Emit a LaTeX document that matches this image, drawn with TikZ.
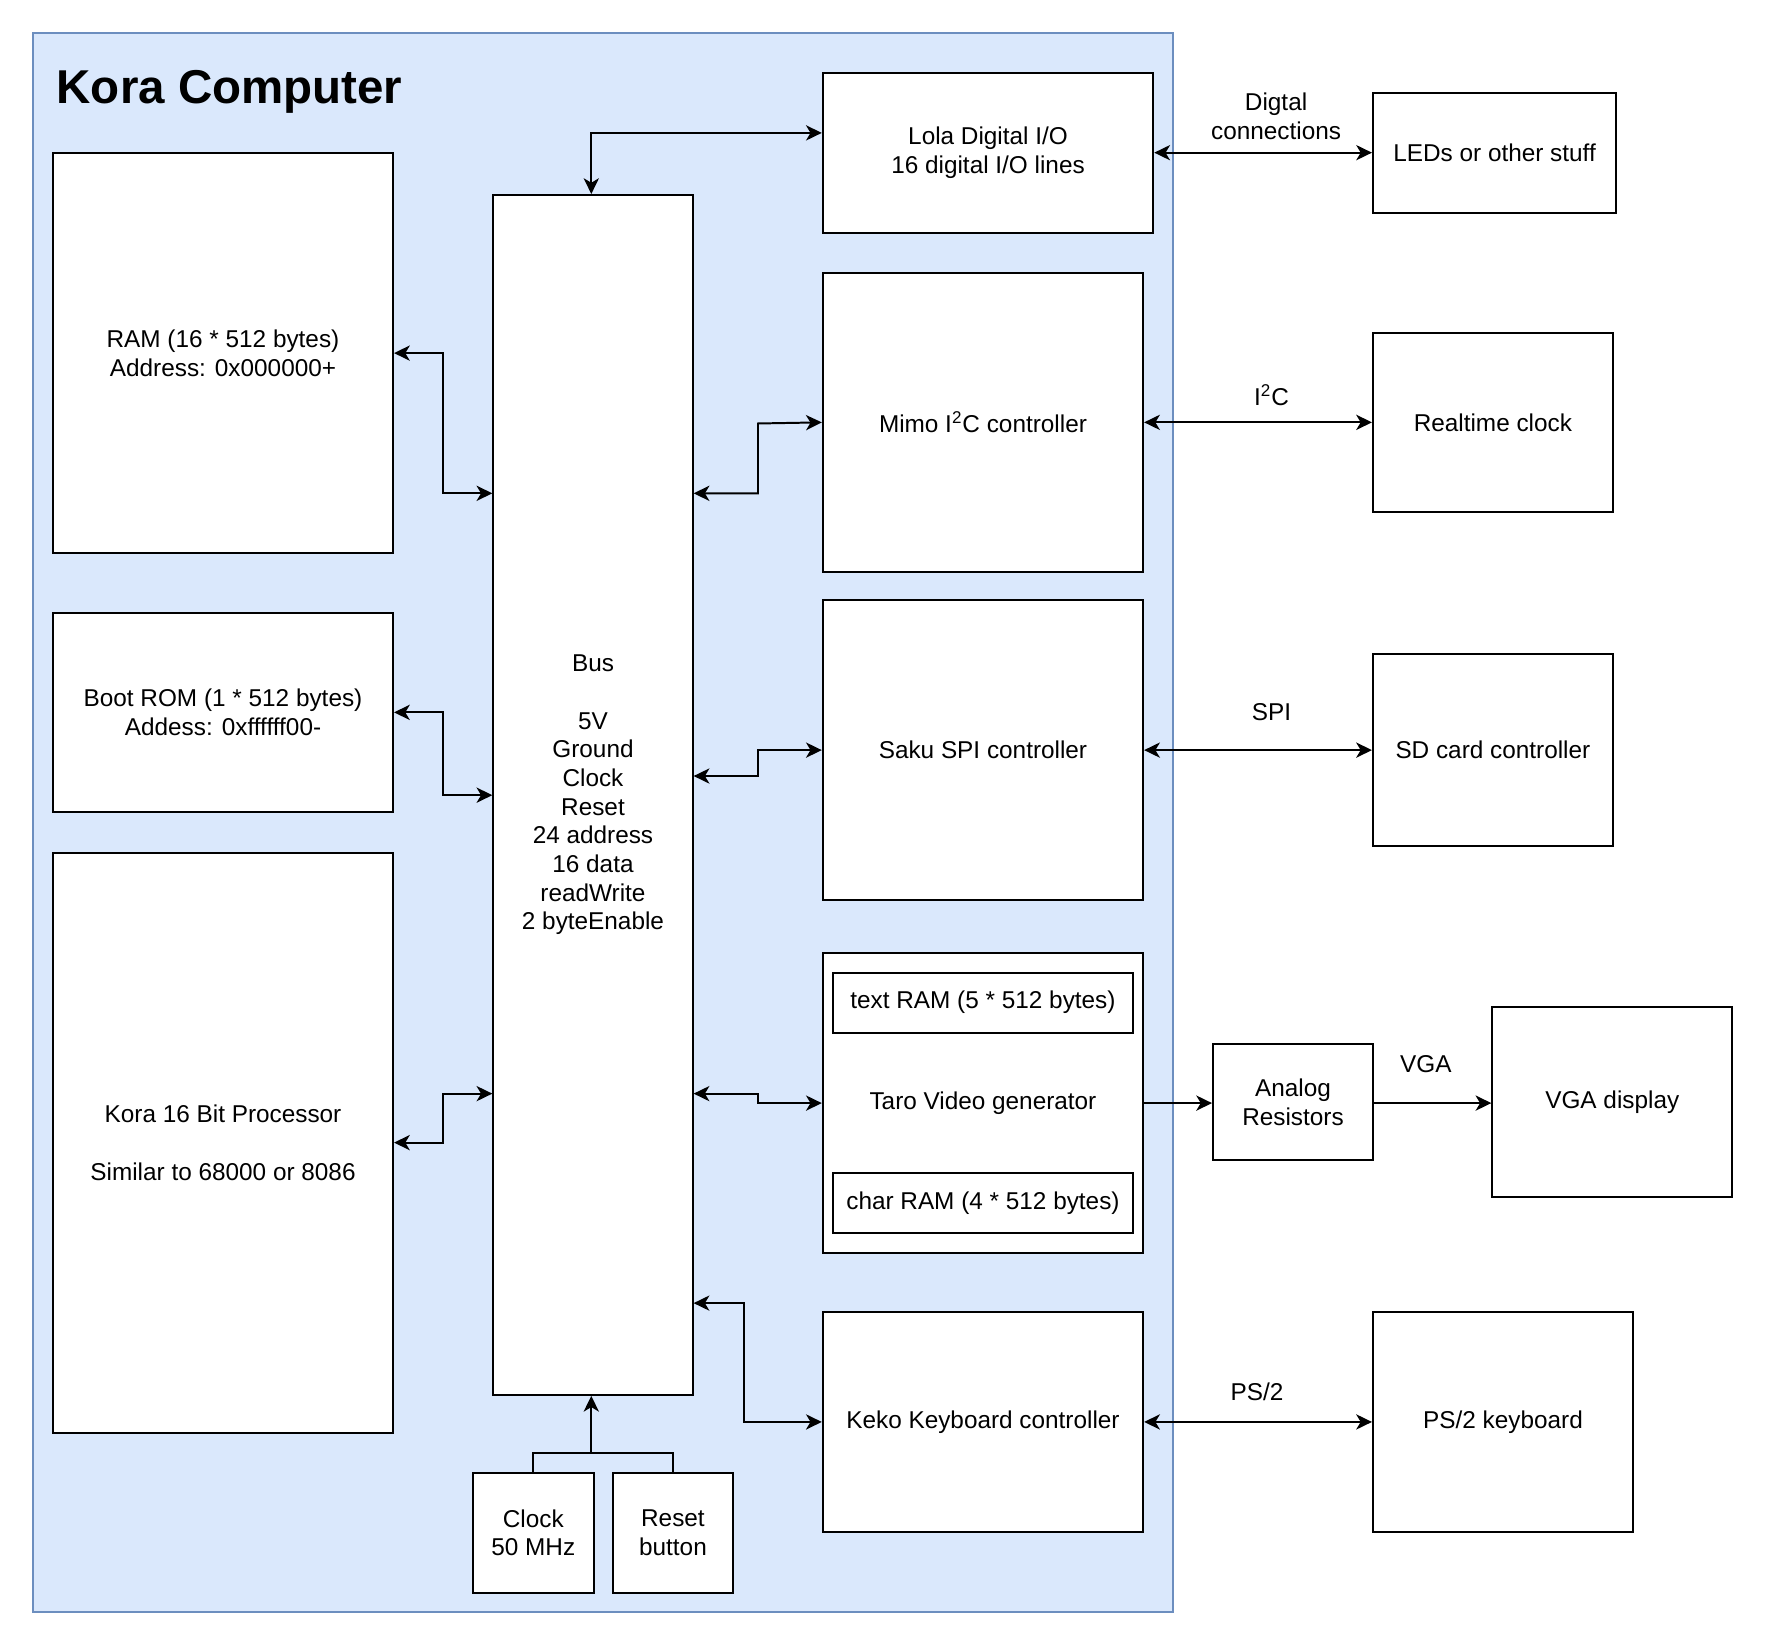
\documentclass[tikz,border=0pt]{standalone}
\usepackage{fontspec}
\setmainfont{Liberation Sans}
\usetikzlibrary{arrows.meta}
\definecolor{outerfill}{HTML}{DAE8FC}
\definecolor{outerdraw}{HTML}{6C8EBF}
\tikzset{
  blk/.style={draw=black, fill=white, line width=1pt, inner sep=0pt, align=center, font=\fontsize{12.3}{14.5}\selectfont},
  lbl/.style={inner sep=0pt, align=center, font=\fontsize{12.3}{14.5}\selectfont},
  conn/.style={line width=1pt, draw=black},
  >={Stealth[length=0.28cm,width=0.27cm,inset=0.08cm]}
}
\begin{document}
\begin{tikzpicture}[x=0.02cm,y=-0.02cm]
\useasboundingbox (0,0) rectangle (1568,1461);
% container
\node[draw=outerdraw, fill=outerfill, line width=1pt, inner sep=0pt,
      minimum width=20.24cm, minimum height=28.04cm] (outer) at (535.25,730) {};
\node[inner sep=0pt, anchor=base west, font=\fontsize{24}{28}\selectfont\bfseries] (title) at (50,92) {Kora Computer};

% left column
\node[blk, minimum width=6.04cm, minimum height=7.1cm] (ram) at (198,313.5) {RAM (16 * 512 bytes)\\Address: 0x000000+};
\node[blk, minimum width=6.04cm, minimum height=3.54cm] (boot) at (198,632.5) {Boot ROM (1 * 512 bytes)\\Addess: 0xffffff00-};
\node[blk, minimum width=6.04cm, minimum height=10.3cm] (proc) at (198,1014.5) {Kora 16 Bit Processor\\[14.5pt]Similar to 68000 or 8086};

% bus
\node[blk, minimum width=3.54cm, minimum height=21.31cm] (bus) at (526.5,705.8) {Bus\\[14.5pt]5V\\Ground\\Clock\\Reset\\24 address\\16 data\\readWrite\\2 byteEnable};

% clock / reset
\node[blk, minimum width=2.14cm, minimum height=2.13cm] (clock) at (473.5,1360.8) {Clock\\50 MHz};
\node[blk, minimum width=2.14cm, minimum height=2.13cm] (reset) at (597.5,1360.8) {Reset\\button};

% controllers
\node[blk, minimum width=5.87cm, minimum height=2.84cm] (lola) at (877.25,135.55) {Lola Digital I/O\\16 digital I/O lines};
\node[blk, minimum width=5.69cm, minimum height=5.32cm] (mimo) at (872.75,375) {Mimo I\textsuperscript{2}C controller};
\node[blk, minimum width=5.69cm, minimum height=5.32cm] (saku) at (872.75,666) {Saku SPI controller};
\node[blk, minimum width=5.69cm, minimum height=5.34cm] (taro) at (872.75,979.4) {Taro Video generator};
\node[blk, minimum width=5.34cm, minimum height=1.07cm] (textram) at (872.75,890.25) {text RAM (5 * 512 bytes)};
\node[blk, minimum width=5.34cm, minimum height=1.08cm] (charram) at (872.75,1068.1) {char RAM (4 * 512 bytes)};
\node[blk, minimum width=5.69cm, minimum height=3.9cm] (keko) at (872.75,1262.5) {Keko Keyboard controller};

% external devices
\node[blk, minimum width=4.32cm, minimum height=2.14cm] (leds) at (1327,135.85) {LEDs or other stuff};
\node[blk, minimum width=4.26cm, minimum height=3.18cm] (rtc) at (1325.5,375.5) {Realtime clock};
\node[blk, minimum width=4.26cm, minimum height=3.4cm] (sd) at (1325.5,666) {SD card controller};
\node[blk, minimum width=2.84cm, minimum height=2.06cm] (analog) at (1148,978.5) {Analog\\Resistors};
\node[blk, minimum width=4.26cm, minimum height=3.38cm] (vga) at (1431.5,978.5) {VGA display};
\node[blk, minimum width=4.62cm, minimum height=3.9cm] (ps2) at (1334.5,1262.5) {PS/2 keyboard};

% labels
\node[lbl] (ldig) at (1133,103) {Digtal\\connections};
\node[lbl] (li2c) at (1129,351) {I\textsuperscript{2}C};
\node[lbl] (lspi) at (1129,632) {SPI};
\node[lbl] (lvga) at (1266,945) {VGA};
\node[lbl] (lps2) at (1116,1236) {PS/2};

% connectors: left side
\draw[conn,<->] (ram.east) -- (ram.east -| 393,0) |- (bus.west |- 0,438);
\draw[conn,<->] (boot.east) -- (boot.east -| 393,0) |- (bus.west |- 0,706);
\draw[conn,<->] (proc.east) -- (proc.east -| 393,0) |- (bus.west |- 0,971);

% connectors: right side of bus
\draw[conn,<->] (bus.north -| 525,0) |- (lola.west |- 0,118);
\draw[conn,<->] (bus.east |- 0,438) -| (673,376) -- (mimo.west);
\draw[conn,<->] (bus.east |- 0,689) -| (673,666) -- (saku.west);
\draw[conn,<->] (bus.east |- 0,971) -| (673,979.4) -- (taro.west);
\draw[conn,<->] (bus.east |- 0,1157) -| (661,1262.5) -- (keko.west);

% clock / reset to bus
\draw[conn,->] (clock.north) |- (525,1290) -- (bus.south -| 525,0);
\draw[conn] (reset.north) |- (525,1290);

% external connectors
\draw[conn,<->] (lola.east) -- (leds.west |- lola.east);
\draw[conn,<->] (mimo.east) -- (rtc.west |- mimo.east);
\draw[conn,<->] (saku.east) -- (sd.west |- saku.east);
\draw[conn,->] (taro.east) -- (analog.west |- taro.east);
\draw[conn,->] (analog.east |- taro.east) -- (vga.west |- taro.east);
\draw[conn,<->] (keko.east) -- (ps2.west);
\end{tikzpicture}
\end{document}
